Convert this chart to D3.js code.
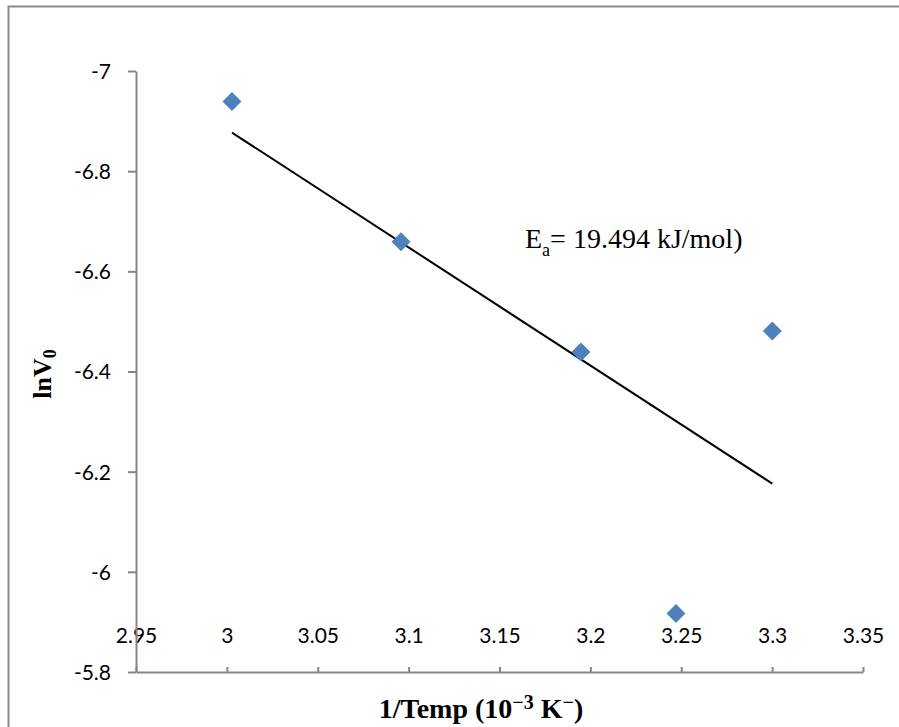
<!DOCTYPE html>
<html lang="en">
    <head>
        <meta charset="utf-8">
        <title>lnV0 vs 1/Temp</title>
        <script src="https://d3js.org/d3.v7.min.js"></script>
        <style type="text/css">
          body
          {
              margin: 0;
              background: #ffffff;
          }
          .tick text
          {
              font-family: Lato, "Open Sans", sans-serif;
              font-size: 21px;
              fill: #000000;
          }
          .axis path, .axis line
          {
              stroke: #868686;
              stroke-width: 2px;
          }
        </style>
    </head>
    <body>
        <script type="text/javascript">
            // data
            var invTemp = [3.0028, 3.0958, 3.1948, 3.2471, 3.3001];
            var lnV0 = [-6.939, -6.659, -6.439, -5.917, -6.481];

            // linear trendline endpoints
            var trendX = [3.0028, 3.3001];
            var trendY = [-6.877, -6.176];

            var xTicks = [2.95, 3, 3.05, 3.1, 3.15, 3.2, 3.25, 3.3, 3.35];
            var yTicks = [-7, -6.8, -6.6, -6.4, -6.2, -6, -5.8];

            var w = 899;
            var h = 727;

            // plain hyphen for negatives, like the original
            var fmt = function(d) { return String(d); };

            // y axis runs downward from -7 to -5.8
            var xScale = d3.scaleLinear().domain([2.95, 3.35]).range([136, 863]);
            var yScale = d3.scaleLinear().domain([-7, -5.8]).range([71, 672]);

            var svg = d3.select("body")
                        .append("svg")
                        .attr("width", w)
                        .attr("height", h);

            // chart frame (cut off at right and bottom)
            svg.append("rect")
               .attr("x", 8.5)
               .attr("y", 6.5)
               .attr("width", 1000)
               .attr("height", 1000)
               .attr("fill", "none")
               .attr("stroke", "#8a8a8a")
               .attr("stroke-width", 2);

            // x axis: ticks point up, labels sit well above the line
            var xAxis = d3.axisBottom(xScale)
                          .tickValues(xTicks)
                          .tickSizeInner(-5)
                          .tickSizeOuter(0)
                          .tickFormat(fmt);

            var gx = svg.append("g")
                        .attr("class", "axis")
                        .attr("transform", "translate(0," + yScale(-5.8) + ")")
                        .call(xAxis);
            gx.selectAll("text")
              .attr("y", -36)
              .attr("dy", "0.35em");

            // y axis
            var yAxis = d3.axisLeft(yScale)
                          .tickValues(yTicks)
                          .tickSizeInner(8)
                          .tickSizeOuter(0)
                          .tickPadding(17)
                          .tickFormat(fmt);

            svg.append("g")
               .attr("class", "axis")
               .attr("transform", "translate(" + xScale(2.95) + ",0)")
               .call(yAxis)
               .selectAll("text")
               .attr("dy", "0.35em");

            // trendline
            var line = d3.line()
                         .x(function(d) { return xScale(d[0]); })
                         .y(function(d) { return yScale(d[1]); });

            svg.append("path")
               .datum(d3.zip(trendX, trendY))
               .attr("d", line)
               .attr("fill", "none")
               .attr("stroke", "#000000")
               .attr("stroke-width", 2);

            // diamond markers
            var diamond = d3.symbol().type(d3.symbolSquare).size(180);

            svg.selectAll("path.pt")
               .data(d3.zip(invTemp, lnV0))
               .enter()
               .append("path")
               .attr("class", "pt")
               .attr("d", diamond)
               .attr("transform", function(d)
               {
                   return "translate(" + xScale(d[0]) + "," + yScale(d[1]) + ") rotate(45)";
               })
               .attr("fill", "#4f81bd");

            // annotation
            var ann = svg.append("text")
                         .attr("x", 525)
                         .attr("y", 248)
                         .style("font-family", "'Liberation Serif', serif")
                         .style("font-size", "28px");
            ann.append("tspan").text("E");
            ann.append("tspan").attr("dy", 8).style("font-size", "18px").text("a");
            ann.append("tspan").attr("dy", -8).text("= 19.494 kJ/mol)");

            // axis titles
            var xt = svg.append("text")
                        .attr("x", 481)
                        .attr("y", 718)
                        .attr("text-anchor", "middle")
                        .style("font-family", "'Liberation Serif', serif")
                        .style("font-weight", "bold")
                        .style("font-size", "28px");
            xt.append("tspan").text("1/Temp (10");
            xt.append("tspan").attr("dy", -9).style("font-size", "20px").text("\u2212" + "3");
            xt.append("tspan").attr("dy", 9).text(" K");
            xt.append("tspan").attr("dy", -9).style("font-size", "20px").text("\u2212");
            xt.append("tspan").attr("dy", 9).text(")");

            var yt = svg.append("text")
                        .attr("transform", "translate(51,374) rotate(-90)")
                        .attr("text-anchor", "middle")
                        .style("font-family", "'Liberation Serif', serif")
                        .style("font-weight", "bold")
                        .style("font-size", "26px");
            yt.append("tspan").text("lnV");
            yt.append("tspan").attr("dy", 5).style("font-size", "18px").text("0");
        </script>
    </body>
</html>
